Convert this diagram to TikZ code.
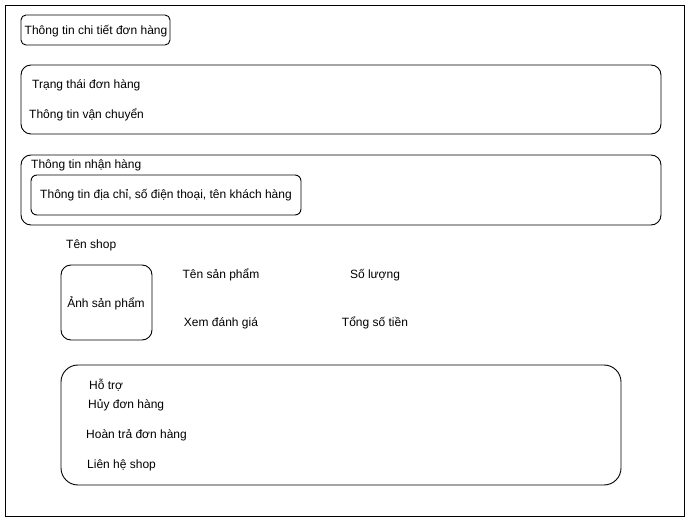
\documentclass[tikz,border=0pt]{standalone}
\usepackage{fontspec}
\setmainfont{Liberation Sans}
\usepackage{tikz}
\usetikzlibrary{positioning}

\begin{document}
\begin{tikzpicture}[x=1pt,y=-1pt,
		box/.style={draw=black, line width=0.9pt},
		lbl/.style={inner sep=0pt, font=\fontsize{12}{14}\selectfont},
		lbll/.style={lbl, anchor=west}]
		\useasboundingbox (0,0) rectangle (691,521);
		\draw [line width=0.9pt] (5,5) rectangle (684,516);
		
		\draw [box, rounded corners=5] (21,15) rectangle (170,45);
		\node [lbl] (chitiet) at (96,31) {Thông tin chi tiết đơn hàng};
		
		\draw [box, rounded corners=10] (21,65) rectangle (661,134);
		\node [lbll] (trangthai) at (32,85) {Trạng thái đơn hàng};
		\node [lbll] (vanchuyen) at (29,115) {Thông tin vận chuyển};
		
		\draw [box, rounded corners=10] (21,155) rectangle (661,225);
		\node [lbll] (nhanhang) at (31,165) {Thông tin nhận hàng};
		\draw [box, rounded corners=6] (31,175) rectangle (301,215);
		\node [lbl] (diachi) at (166,195) {Thông tin địa chỉ, số điện thoại, tên khách hàng};
		
		\node [lbll] (tenshop) at (66,245) {Tên shop};
		\draw [box, rounded corners=10] (61,265) rectangle (152,340);
		\node [lbl] (anh) at (106,303) {Ảnh sản phẩm};
		\node [lbl] (tensp) at (221,275) {Tên sản phẩm};
		\node [lbl] (soluong) at (375,275) {Số lượng};
		\node [lbl] (danhgia) at (221,323) {Xem đánh giá};
		\node [lbl] (tongtien) at (375,323) {Tổng số tiền};
		
		\draw [box, rounded corners=17] (61,365) rectangle (621,485);
		\node [lbll] (hotro) at (89,385) {Hỗ trợ};
		\node [lbll] (huy) at (88,405) {Hủy đơn hàng};
		\node [lbll] (hoantra) at (86,435) {Hoàn trả đơn hàng};
		\node [lbll] (lienhe) at (87,465) {Liên hệ shop};
	\end{tikzpicture}
\end{document}
